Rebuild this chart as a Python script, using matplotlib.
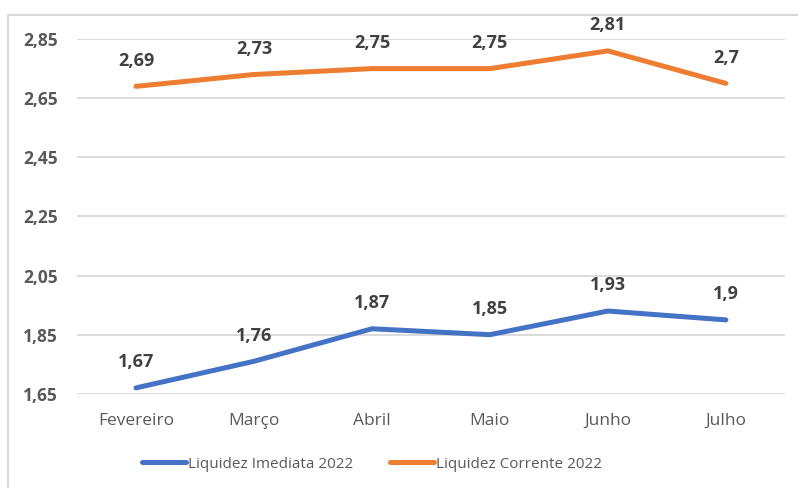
import matplotlib
matplotlib.use("Agg")
import matplotlib.pyplot as plt
from matplotlib.patches import Rectangle

months = ["Fevereiro", "Março", "Abril", "Maio", "Junho", "Julho"]
imediata = [1.67, 1.76, 1.87, 1.85, 1.93, 1.90]
corrente = [2.69, 2.73, 2.75, 2.75, 2.81, 2.70]
label_imediata = ["1,67", "1,76", "1,87", "1,85", "1,93", "1,9"]
label_corrente = ["2,69", "2,73", "2,75", "2,75", "2,81", "2,7"]
yticks = [1.65, 1.85, 2.05, 2.25, 2.45, 2.65, 2.85]

plt.rcParams['font.family'] = ['Open Sans', 'DejaVu Sans']

fig = plt.figure(figsize=(7.98, 4.88), dpi=100)
ax = fig.add_axes([0.0965, 0.193, 0.887, 0.727])

# border
fig.patches.append(Rectangle((8/798, -0.2), 1.2, 1.2 - 15/488, transform=fig.transFigure,
                             fill=False, edgecolor="#D9D9D9", linewidth=1.5, zorder=0))

x = list(range(len(months)))
blue = "#4472C4"
orange = "#ED7D31"
l1, = ax.plot(x, imediata, color=blue, lw=3.6, solid_capstyle="round", solid_joinstyle="round",
              label="Liquidez Imediata 2022", zorder=3)
l2, = ax.plot(x, corrente, color=orange, lw=3.6, solid_capstyle="round", solid_joinstyle="round",
              label="Liquidez Corrente 2022", zorder=3)

for xi, v, t in zip(x, imediata, label_imediata):
    ax.annotate(t, (xi, v), xytext=(0, 18.5), textcoords="offset points", ha="center", va="center",
                fontsize=13, fontweight="bold", color="#404040")
for xi, v, t in zip(x, corrente, label_corrente):
    ax.annotate(t, (xi, v), xytext=(0, 18.5), textcoords="offset points", ha="center", va="center",
                fontsize=13, fontweight="bold", color="#404040")

ax.set_xlim(-0.5, len(months) - 0.5)
ax.set_ylim(1.65, 2.85)
ax.set_yticks(yticks)
ax.set_yticklabels([f"{t:.2f}".replace(".", ",") for t in yticks], fontsize=12.5, fontweight="bold",
                   color="#595959")
ax.set_xticks(x)
ax.set_xticklabels(months, fontsize=12.5, color="#595959")
ax.tick_params(axis="both", length=0)
ax.tick_params(axis="y", pad=14)
ax.tick_params(axis="x", pad=14)
ax.grid(axis="y", color="#D9D9D9", linewidth=1.3)
ax.set_axisbelow(True)
for s in ax.spines.values():
    s.set_visible(False)

fig.legend(handles=[l1, l2], loc="center", bbox_to_anchor=(0.466, 0.049), ncol=2, frameon=False,
           fontsize=11, handlelength=2.9, handletextpad=0.1, columnspacing=2.4,
           labelcolor="#595959")

fig.savefig("out.png", dpi=100)
